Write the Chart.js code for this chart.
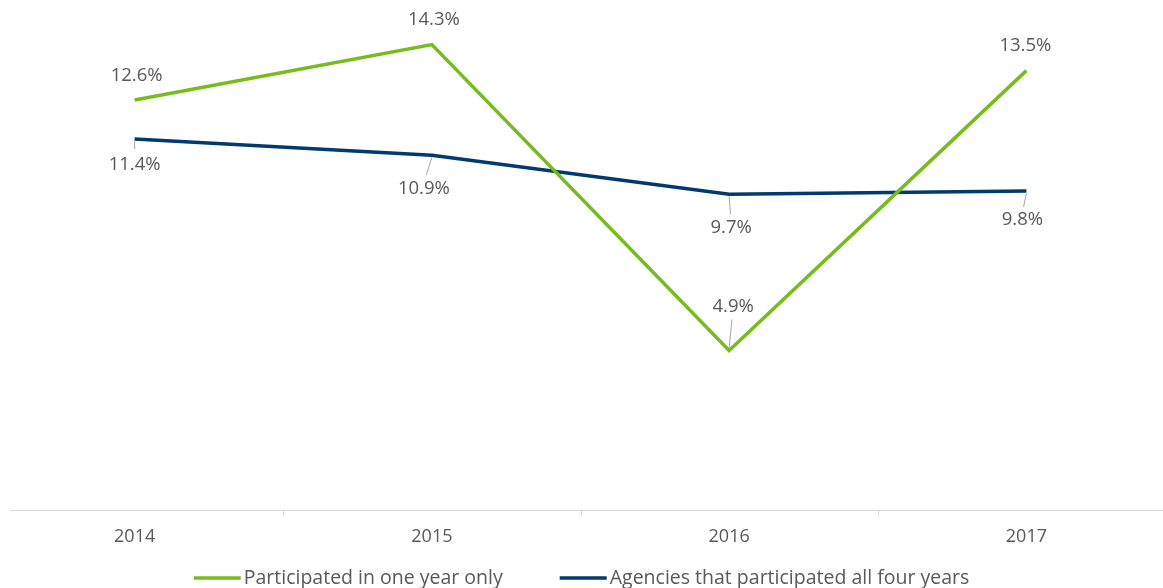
<!DOCTYPE html>
<html>
<head>
<meta charset="utf-8">
<script src="https://cdn.jsdelivr.net/npm/chart.js@4/dist/chart.umd.min.js"></script>
<style>
  html, body { margin: 0; padding: 0; background: #fff; }
  #wrap { width: 1163px; height: 588px; position: relative; overflow: hidden; }
  #inner { position: absolute; left: -14px; top: 0; width: 1189px; height: 588px; }
</style>
</head>
<body>
<div id="wrap"><div id="inner"><canvas id="myLineChart"></canvas></div></div>
<script>
const years = ["2014", "2015", "2016", "2017"];
const oneYearOnly = [12.6, 14.3, 4.9, 13.5];
const allFourYears = [11.4, 10.9, 9.7, 9.8];
const seriesNames = ["Participated in one year only", "Agencies that participated all four years"];

const green = "#77bc1f";
const navy = "#003a70";
const textGrey = "#595959";
const font = "'Open Sans', 'DejaVu Sans', sans-serif";
const shift = 14; // canvas sits 14px left of the page

// label offsets (dx, dy) from each point, per dataset
const labelOffsets = [
  [[2, -24], [2, -25], [4, -44], [-1, -25]],
  [[0, 26], [-8, 33], [2, 33], [-4, 29]]
];

const pointLabels = {
  id: "pointLabels",
  afterDatasetsDraw(chart) {
    const c = chart.ctx;
    c.save();
    c.font = "18.5px " + font;
    c.textAlign = "center";
    c.textBaseline = "middle";
    chart.data.datasets.forEach((ds, di) => {
      const meta = chart.getDatasetMeta(di);
      meta.data.forEach((pt, i) => {
        const [dx, dy] = labelOffsets[di][i];
        const lx = pt.x + dx, ly = pt.y + dy;
        c.strokeStyle = "#a6a6a6";
        c.lineWidth = 1;
        if (Math.abs(dy) > 28) {
          const sign = dy > 0 ? 1 : -1;
          c.beginPath();
          c.moveTo(pt.x, pt.y + sign * 2);
          c.lineTo(lx - dx * 0.3, ly - sign * 13);
          c.stroke();
        } else if (di === 1) {
          c.beginPath();
          c.moveTo(pt.x, pt.y + 2);
          c.lineTo(pt.x + dx * 0.4, pt.y + 10);
          c.stroke();
        }
        c.fillStyle = textGrey;
        c.fillText(ds.data[i].toFixed(1) + "%", lx, ly);
      });
    });
    c.restore();
  }
};

const axisAndLegend = {
  id: "axisAndLegend",
  afterDraw(chart) {
    const c = chart.ctx;
    const x = chart.scales.x;
    const bottom = chart.chartArea.bottom;
    c.save();
    c.strokeStyle = "#d9d9d9";
    c.lineWidth = 1;
    c.beginPath();
    c.moveTo(10 + shift, bottom + 0.5);
    c.lineTo(chart.width, bottom + 0.5);
    // tick marks between categories
    for (let i = 1; i < years.length; i++) {
      const px = Math.round((x.getPixelForValue(i - 1) + x.getPixelForValue(i)) / 2) + 0.5;
      c.moveTo(px, bottom);
      c.lineTo(px, bottom + 6);
    }
    c.stroke();

    // legend
    c.font = "19.5px " + font;
    c.textBaseline = "middle";
    const sw = 47, gap = 3, itemGap = 57;
    const widths = seriesNames.map(n => sw + gap + c.measureText(n).width);
    const total = widths[0] + itemGap + widths[1];
    let lx = shift + (1163 - total) / 2;
    const ly = 578;
    chart.data.datasets.forEach((ds, i) => {
      c.strokeStyle = ds.borderColor;
      c.lineWidth = 3.5;
      c.beginPath();
      c.moveTo(lx, ly);
      c.lineTo(lx + sw, ly);
      c.stroke();
      c.fillStyle = textGrey;
      c.fillText(ds.label, lx + sw + gap, ly);
      lx += widths[i] + itemGap;
    });
    c.restore();
  }
};

const ctx = document.getElementById("myLineChart");
const myChart = new Chart(ctx, {
  type: "line",
  data: {
    labels: years,
    datasets: [
      {
        label: seriesNames[0],
        data: oneYearOnly,
        borderColor: green,
        backgroundColor: green,
        borderWidth: 3.5,
        pointRadius: 0,
        tension: 0,
        fill: false
      },
      {
        label: seriesNames[1],
        data: allFourYears,
        borderColor: navy,
        backgroundColor: navy,
        borderWidth: 3.5,
        pointRadius: 0,
        tension: 0,
        fill: false
      }
    ]
  },
  options: {
    responsive: true,
    maintainAspectRatio: false,
    animation: false,
    layout: { padding: 0 },
    plugins: {
      legend: { display: false },
      tooltip: { enabled: false }
    },
    scales: {
      x: {
        offset: true,
        grid: { display: false, drawTicks: false },
        border: { display: false },
        ticks: {
          color: textGrey,
          font: { family: font, size: 18 },
          padding: 16
        },
        afterFit(scale) { scale.height = 78; }
      },
      y: {
        display: false,
        min: 0,
        max: 15.67
      }
    }
  },
  plugins: [pointLabels, axisAndLegend]
});
</script>
</body>
</html>
